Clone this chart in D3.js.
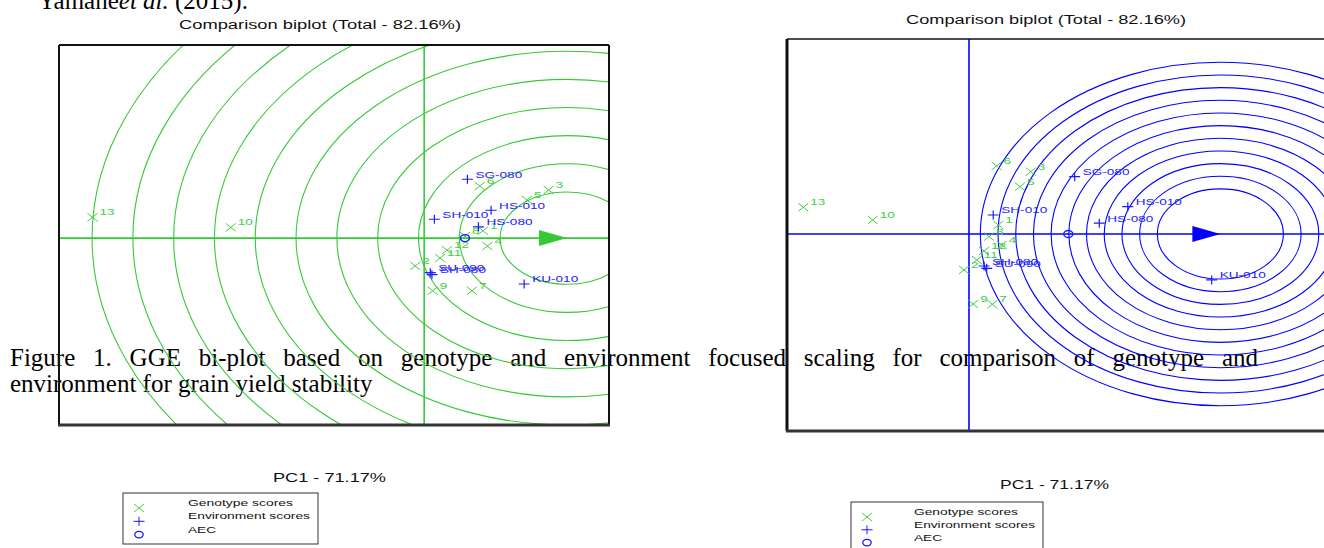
<!DOCTYPE html>
<html><head><meta charset="utf-8">
<script src="https://cdn.jsdelivr.net/npm/d3@7"></script>
<style>html,body{margin:0;padding:0;background:#fff;overflow:hidden}</style>
</head><body><svg id="c" width="1324" height="548"></svg>
<script>
// ---- data ----
const genotypes = ["1","2","3","4","5","6","7","8","9","10","11","12","13"];
const environments = ["SG-080","HS-010","HS-080","SH-010","KU-010","SU-090","SH-080"];

// genotype-focused comparison biplot (PC1, PC2)
const leftGenoPC1 = [1.44,-0.22,3.05,1.55,2.52,1.36,1.17,1.00,0.21,-4.74,0.39,0.56,-8.13];
const leftGenoPC2 = [0.26,-0.99,1.71,-0.28,1.35,1.85,-1.87,0.07,-1.87,0.38,-0.71,-0.43,0.74];
const leftEnvPC1  = [1.06,1.64,1.33,0.25,2.45,0.15,0.19];
const leftEnvPC2  = [2.09,0.99,0.40,0.67,-1.63,-1.23,-1.30];
const leftAEC     = [1.00,0.00];
const leftIdeal   = [3.50,0.00];
const leftRings   = [1.64,2.64,3.64,4.64,5.64,6.64,7.64,8.64,9.64,10.64,11.64];

// environment-focused comparison biplot (PC1, PC2)
const rightGenoPC1 = [1.66,-0.28,3.49,1.85,2.88,1.56,1.32,1.13,0.24,-5.44,0.44,0.85,-9.36];
const rightGenoPC2 = [0.71,-2.84,4.92,-0.87,3.74,5.37,-5.55,-0.21,-5.53,1.11,-2.05,-1.34,2.11];
const rightEnvPC1  = [5.97,8.97,7.36,1.37,13.71,1.00,0.85];
const rightEnvPC2  = [4.53,2.16,0.85,1.50,-3.63,-2.71,-2.53];
const rightAEC     = [5.61,0.00];
const rightIdeal   = [14.20,0.00];
const rightRings   = [3.56,4.56,5.56,6.56,7.56,8.56,9.56,10.56,11.56,12.56,13.56];

const titleText = "Comparison biplot (Total - 82.16%)";
const xAxisText = "PC1 - 71.17%";
const legendItems = ["Genotype scores","Environment scores","AEC"];
const captionLine1 = "Figure 1. GGE bi-plot based on genotype and environment focused scaling for comparison of genotype and";
const captionLine2 = "environment for grain yield stability";

// ---- drawing ----
const svg = d3.select("#c");
const sans = "'Liberation Sans', Arial, sans-serif";
const serif = "'Liberation Serif', 'Times New Roman', serif";
const GREEN = "#36c936", GENO = "#45cc45", BLUE = "#0000ff", ENV = "#1a1aff";

// running text of the page
const cite = svg.append("text").attr("x", 38).attr("y", 9)
  .attr("font-family", serif).attr("font-size", 25).attr("fill", "#000");
cite.append("tspan").text("Yamane");
cite.append("tspan").attr("font-style", "italic").text("et al.");
cite.append("tspan").text(" (2015).");

function justify(text, x0, x1, y) {
  const g = svg.append("g").attr("font-family", serif).attr("font-size", 25).attr("fill", "#000");
  const words = text.split(" ");
  const nodes = words.map(w => g.append("text").attr("y", y).text(w));
  const w = nodes.map(n => n.node().getComputedTextLength());
  const gap = (x1 - x0 - d3.sum(w)) / (words.length - 1);
  let x = x0;
  nodes.forEach((n, i) => { n.attr("x", x); x += w[i] + gap; });
}
justify(captionLine1, 10, 1258, 366);
svg.append("text").attr("x", 10).attr("y", 392).attr("font-family", serif)
  .attr("font-size", 25).attr("fill", "#000").text(captionLine2);

const crossPath = "M-5,-4L5,4M-5,4L5,-4";
const plusPath = "M-5.5,0H5.5M0,-4.5V4.5";

function biplot(cfg) {
  const [fx0, fy0, fx1, fy1] = cfg.frame;
  const x = d3.scaleLinear().domain(cfg.xDomain).range([fx0, fx1]);
  const y = d3.scaleLinear().domain(cfg.yDomain).range([fy1, fy0]);
  const g = svg.append("g");
  const clipId = "clip" + cfg.id;
  g.append("clipPath").attr("id", clipId).append("rect")
    .attr("x", fx0).attr("y", fy0).attr("width", fx1 - fx0).attr("height", fy1 - fy0);
  const inner = g.append("g").attr("clip-path", `url(#${clipId})`);

  // concentric rings around the ideal point
  inner.selectAll("ellipse.ring").data(cfg.rings).join("ellipse").attr("class", "ring")
    .attr("cx", x(cfg.ideal[0])).attr("cy", y(cfg.ideal[1]))
    .attr("rx", r => x(cfg.ideal[0] + r) - x(cfg.ideal[0]))
    .attr("ry", r => y(0) - y(r))
    .attr("fill", "none").attr("stroke", cfg.lineColor).attr("stroke-width", 1.1);

  // axes through the origin
  inner.append("line").attr("x1", fx0).attr("x2", fx1).attr("y1", y(0)).attr("y2", y(0))
    .attr("stroke", cfg.lineColor).attr("stroke-width", 1.6);
  inner.append("line").attr("x1", x(0)).attr("x2", x(0)).attr("y1", fy0).attr("y2", fy1)
    .attr("stroke", cfg.lineColor).attr("stroke-width", 1.6);

  // arrowhead at the ideal point
  const tx = x(cfg.ideal[0]), ty = y(cfg.ideal[1]);
  inner.append("path").attr("d", `M${tx},${ty}L${tx - 28},${ty - 8}L${tx - 28},${ty + 8}Z`)
    .attr("fill", cfg.lineColor);

  // genotype scores
  const geno = genotypes.map((name, i) => ({ name, px: x(cfg.gx[i]), py: y(cfg.gy[i]) }));
  inner.selectAll("path.geno").data(geno).join("path").attr("class", "geno")
    .attr("transform", d => `translate(${d.px},${d.py})`).attr("d", crossPath)
    .attr("stroke", GENO).attr("stroke-width", 1).attr("fill", "none");
  inner.selectAll("text.geno").data(geno).join("text").attr("class", "geno")
    .attr("transform", d => `translate(${d.px + 7},${d.py - 2}) scale(1.43,1)`)
    .attr("font-family", sans).attr("font-size", 9.5).attr("fill", GENO).text(d => d.name);

  // environment scores
  const env = environments.map((name, i) => ({ name, px: x(cfg.ex[i]), py: y(cfg.ey[i]) }));
  inner.selectAll("path.env").data(env).join("path").attr("class", "env")
    .attr("transform", d => `translate(${d.px},${d.py})`).attr("d", plusPath)
    .attr("stroke", ENV).attr("stroke-width", 1.2).attr("fill", "none");
  inner.selectAll("text.env").data(env).join("text").attr("class", "env")
    .attr("transform", d => `translate(${d.px + 8},${d.py - 1.5}) scale(1.43,1)`)
    .attr("font-family", sans).attr("font-size", 9.5).attr("fill", ENV).text(d => d.name);

  // average environment coordinate
  inner.append("ellipse").attr("cx", x(cfg.aec[0])).attr("cy", y(cfg.aec[1]))
    .attr("rx", 4.5).attr("ry", 3.5).attr("fill", "none").attr("stroke", ENV).attr("stroke-width", 1.4);

  // frame
  const fr = g.append("g").attr("stroke", "#111");
  fr.append("line").attr("x1", fx0).attr("x2", fx1).attr("y1", fy0).attr("y2", fy0).attr("stroke-width", cfg.bw[0]);
  fr.append("line").attr("x1", fx0).attr("x2", fx0).attr("y1", fy0).attr("y2", fy1).attr("stroke-width", cfg.bw[1]);
  fr.append("line").attr("x1", fx1).attr("x2", fx1).attr("y1", fy0).attr("y2", fy1).attr("stroke-width", cfg.bw[2]);
  fr.append("line").attr("x1", fx0 - 1).attr("x2", fx1 + 1).attr("y1", fy1).attr("y2", fy1)
    .attr("stroke-width", cfg.bw[3]).attr("stroke", "#333");

  // title and axis label
  svg.append("text").attr("x", cfg.title[0]).attr("y", cfg.title[1])
    .attr("font-family", sans).attr("font-size", 12.5).attr("fill", "#111")
    .attr("textLength", cfg.title[2]).attr("lengthAdjust", "spacingAndGlyphs").text(titleText);
  svg.append("text").attr("x", cfg.pc1[0]).attr("y", cfg.pc1[1])
    .attr("font-family", sans).attr("font-size", 13).attr("fill", "#111")
    .attr("textLength", cfg.pc1[2]).attr("lengthAdjust", "spacingAndGlyphs").text(xAxisText);

  // legend
  const [lx, ly, lw, lh, step, tx0, firstY] = cfg.legend;
  const lg = svg.append("g");
  lg.append("rect").attr("x", lx).attr("y", ly).attr("width", lw).attr("height", lh)
    .attr("fill", "none").attr("stroke", "#333").attr("stroke-width", 1);
  const mx = lx + 16;
  lg.append("path").attr("transform", `translate(${mx},${firstY + 2})`).attr("d", crossPath)
    .attr("stroke", GENO).attr("fill", "none");
  lg.append("path").attr("transform", `translate(${mx},${firstY + 2 + step})`).attr("d", plusPath)
    .attr("stroke", ENV).attr("fill", "none");
  lg.append("ellipse").attr("cx", mx).attr("cy", firstY + 2 + 2 * step).attr("rx", 4.2).attr("ry", 3.3)
    .attr("stroke", ENV).attr("stroke-width", 1.3).attr("fill", "none");
  const lens = cfg.legendLens;
  legendItems.forEach((t, i) => {
    lg.append("text").attr("x", tx0).attr("y", firstY + i * step)
      .attr("font-family", sans).attr("font-size", 9).attr("fill", "#111")
      .attr("textLength", lens[i]).attr("lengthAdjust", "spacingAndGlyphs").text(t);
  });
}

biplot({
  id: "L", frame: [59, 45, 609, 425],
  xDomain: [-8.95, 4.53], yDomain: [-6.64, 6.86],
  gx: leftGenoPC1, gy: leftGenoPC2, ex: leftEnvPC1, ey: leftEnvPC2,
  aec: leftAEC, ideal: leftIdeal, rings: leftRings, lineColor: GREEN,
  bw: [2, 2, 2, 3],
  title: [179, 29, 282], pc1: [273, 482, 113],
  legend: [123, 493, 195, 51, 13.3, 188, 506], legendLens: [105, 122, 28]
});

biplot({
  id: "R", frame: [787, 39, 1345, 431],
  xDomain: [-10.28, 21.24], yDomain: [-15.56, 15.40],
  gx: rightGenoPC1, gy: rightGenoPC2, ex: rightEnvPC1, ey: rightEnvPC2,
  aec: rightAEC, ideal: rightIdeal, rings: rightRings, lineColor: BLUE,
  bw: [1.5, 3, 2, 3],
  title: [906, 24, 280], pc1: [1000, 489, 109],
  legend: [851, 502, 192, 60, 12.8, 914, 515], legendLens: [104, 121, 28]
});
</script></body></html>
